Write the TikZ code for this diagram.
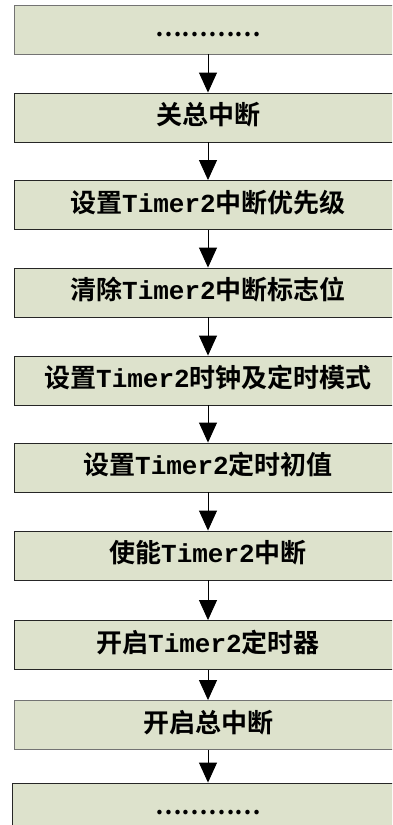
\documentclass[tikz,border=0pt]{standalone}
\usepackage{fontspec}
\usetikzlibrary{arrows.meta}
\newfontfamily\cjk{Noto Sans CJK SC}[BoldFont={Noto Sans CJK SC Bold}]
\newfontfamily\lmono{Liberation Mono}
\newcommand{\tmr}{{\lmono\bfseries Timer2}}
\definecolor{boxfill}{RGB}{221,226,204}
\begin{document}
\begin{tikzpicture}[x=1pt,y=-1pt,
  stepbox/.style={draw=black!85, fill=boxfill, line width=0.9pt,
    minimum width=388pt, minimum height=49pt, inner sep=0pt,
    font=\fontsize{26}{28}\selectfont\cjk\bfseries,
    text height=18pt, text depth=4pt},
  greybox/.style={stepbox, draw=black!55},
  dotbox/.style={stepbox, font=\fontsize{24}{26}\selectfont\cjk\bfseries},
  arr/.style={line width=0.9pt, -{Triangle[width=18pt,length=20pt]}}]
\useasboundingbox (0,0) rectangle (392,825);
\clip (0,0) rectangle (392,825);
\node[dotbox, draw=black!55] (b1) at (208,29.5) {…………};
\node[stepbox] (b2) at (208,117.5) {关总中断};
\node[stepbox] (b3) at (208,205) {设置\tmr 中断优先级};
\node[stepbox] (b4) at (208,292.5) {清除\tmr 中断标志位};
\node[stepbox] (b5) at (208,380.5) {设置\tmr 时钟及定时模式};
\node[stepbox] (b6) at (208,467.5) {设置\tmr 定时初值};
\node[stepbox] (b7) at (208,555.5) {使能\tmr 中断};
\node[stepbox] (b8) at (208,645) {开启\tmr 定时器};
\node[greybox] (b9) at (208,725) {开启总中断};
\node[dotbox, minimum width=392pt] (b10) at (208,807.5) {…………};
\foreach \a/\b in {b1/b2,b2/b3,b3/b4,b4/b5,b5/b6,b6/b7,b7/b8,b8/b9,b9/b10}
  \draw[arr] (\a.south) -- (\b.north);
\end{tikzpicture}
\end{document}
